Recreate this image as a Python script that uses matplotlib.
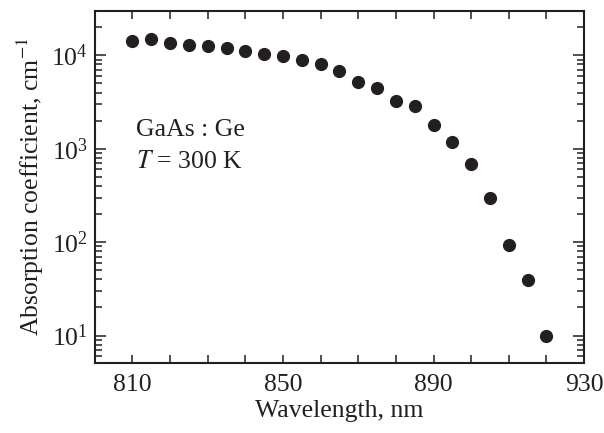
import matplotlib
matplotlib.use('Agg')
import matplotlib.pyplot as plt
import numpy as np
from matplotlib.ticker import FixedLocator, LogLocator, NullFormatter

plt.rcParams['font.family'] = 'Liberation Serif'
plt.rcParams['mathtext.fontset'] = 'stix'

# wavelength (nm) and absorption coefficient (cm^-1)
wavelength = [810, 815, 820, 825, 830, 835, 840, 845, 850, 855, 860, 865,
              870, 875, 880, 885, 890, 895, 900, 905, 910, 915, 920]
alpha = [14400, 14800, 13500, 12900, 12700, 11900, 11250, 10300, 9900, 8900,
         8050, 6800, 5150, 4500, 3250, 2850, 1800, 1170, 690, 295, 94, 39, 10]

fig = plt.figure(figsize=(6.04, 4.33), dpi=100)
ax = fig.add_axes([0.157, 0.162, 0.810, 0.813])

ax.plot(wavelength, alpha, 'o', color='#231f20', markersize=8.5)
ax.set_yscale('log')
ax.set_xlim(800, 930)
ax.set_ylim(5.1, 3e4)

ax.xaxis.set_major_locator(FixedLocator([810, 850, 890, 930]))
ax.xaxis.set_minor_locator(FixedLocator(np.arange(800, 931, 10)))
ax.yaxis.set_major_locator(LogLocator(base=10, numticks=10))
ax.yaxis.set_minor_locator(LogLocator(base=10, subs=np.arange(2, 10), numticks=20))
ax.yaxis.set_minor_formatter(NullFormatter())

ax.tick_params(which='both', direction='in', top=True, right=True, width=1.1,
               labelsize=18.5, colors='#231f20')
ax.tick_params(axis='x', which='both', length=6, pad=8)
ax.tick_params(axis='y', which='major', length=8, pad=5)
ax.tick_params(axis='y', which='minor', length=5)
for s in ax.spines.values():
    s.set_linewidth(1.5)
    s.set_color('#231f20')

ax.set_xlabel('Wavelength, nm', fontsize=18.5, color='#231f20', labelpad=3)
ax.set_ylabel('Absorption coefficient, cm$^{-1}$', fontsize=18.5, color='#231f20', labelpad=4)

ax.text(0.084, 0.645, 'GaAs : Ge', transform=ax.transAxes, fontsize=18.5, color='#231f20')
ax.text(0.084, 0.553, '$T$ = 300 K', transform=ax.transAxes, fontsize=18.5, color='#231f20')

fig.savefig('out.png', dpi=100)
